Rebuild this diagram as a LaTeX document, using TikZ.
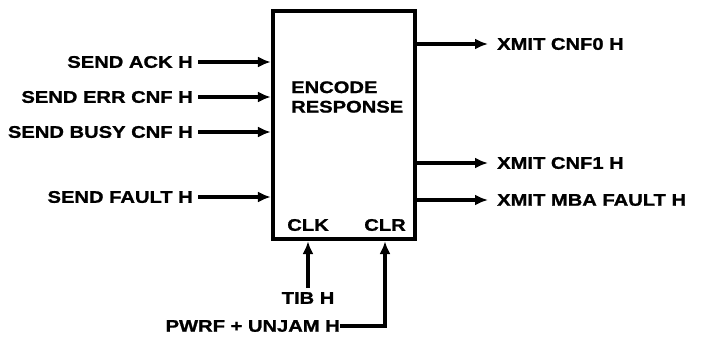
\documentclass[tikz,border=0pt]{standalone}
\usepackage{fontspec}
\setmainfont[FakeStretch=1.2,FakeBold=1.2]{Liberation Sans}
\usetikzlibrary{arrows.meta,calc}
\begin{document}
\begin{tikzpicture}[x=1pt,y=-1pt,
  lbl/.style={font=\fontsize{16.8}{19.5}\selectfont\bfseries, inner sep=0pt},
  sig/.style={line width=3.2pt, -{Latex[length=13pt,width=11pt]}},
  blk/.style={draw, line width=4.2pt, minimum width=142pt, minimum height=228pt, inner sep=0pt}]
\useasboundingbox (0,0) rectangle (704,341);
\node[blk] (box) at (344,125) {};
\node[lbl, align=left, anchor=west] (title) at (291,97) {ENCODE\\RESPONSE};
\node[lbl] (clk) at (308,225) {CLK};
\node[lbl] (clr) at (385,225) {CLR};
% inputs
\node[lbl, anchor=east] (ack) at (193,62) {SEND ACK H};
\node[lbl, anchor=east] (err) at (193,97) {SEND ERR CNF H};
\node[lbl, anchor=east] (busy) at (193,132) {SEND BUSY CNF H};
\node[lbl, anchor=east] (fault) at (193,197) {SEND FAULT H};
\foreach \n in {ack,err,busy,fault}
  \draw[sig] ([xshift=5pt]\n.east) -- (box.west |- \n.east);
% outputs
\node[lbl, anchor=west] (cnf0) at (497,44) {XMIT CNF0 H};
\node[lbl, anchor=west] (cnf1) at (497,163) {XMIT CNF1 H};
\node[lbl, anchor=west] (mba) at (497,200) {XMIT MBA FAULT H};
\foreach \n in {cnf0,cnf1,mba}
  \draw[sig] (box.east |- \n.west) -- ([xshift=-9pt]\n.west);
% bottom
\node[lbl] (tib) at (308,298) {TIB H};
\draw[sig] ([yshift=4pt]tib.north) -- (box.south -| tib.north);
\node[lbl, anchor=east] (pwrf) at (340,326) {PWRF + UNJAM H};
\coordinate (corner) at (385,326);
\draw[sig] (pwrf.east) -- (corner) -- (box.south -| corner);
\end{tikzpicture}
\end{document}
